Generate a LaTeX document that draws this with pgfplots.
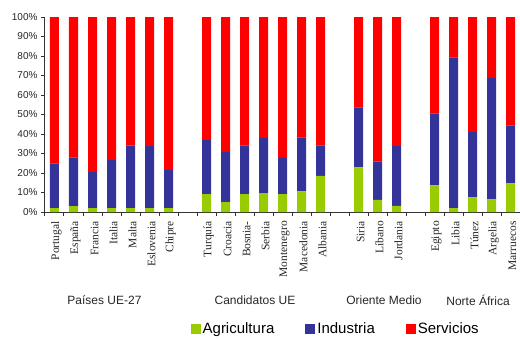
\documentclass[border=0pt]{standalone}
\usepackage{pgfplots}
\pgfplotsset{compat=1.18}
\usepackage{pgfplotstable}
\usepackage{fontspec}
\setmainfont{Liberation Sans}
\newfontfamily\serifx{Liberation Serif}
\definecolor{agr}{HTML}{99CC00}
\definecolor{ind}{HTML}{333399}
\definecolor{ser}{HTML}{FF0000}
\pgfplotstableread{
x agr ind ser
0 2 23 75
1 3 25 72
2 2 18.5 79.5
3 2 24.7 73.3
4 2 32 66
5 2 31.8 66.2
6 2 19.5 78.5
8 9.2 27.7 63.1
9 5.1 25.7 69.2
10 9.2 25 65.8
11 9.7 28.2 62.1
12 9.2 18.5 72.3
13 10.6 27.7 61.7
14 18.5 15.7 65.8
16 22.9 30.8 46.3
17 6.2 19.8 74
18 3.1 30.7 66.2
20 13.7 36.9 49.4
21 2 77.3 20.7
22 7.5 33.5 59
23 6.5 62.2 31.3
24 14.7 29.7 55.6
}\data
\pgfplotsset{sqlegend/.style={legend image code/.code={\fill[#1] (0pt,-5pt) rectangle (10pt,5pt);}}}
\begin{document}
\begin{tikzpicture}
\begin{axis}[
  scale only axis, width=475pt, height=195pt,
  ybar stacked, bar width=9pt,
  xmin=-0.5, xmax=24.5, ymin=0, ymax=100,
  axis x line*=bottom, axis y line*=left,
  axis line style={black!80, line width=1pt},
  tick align=outside,
  ytick={0,10,...,100},
  yticklabel={\pgfmathprintnumber{\tick}\%},
  /pgf/number format/assume math mode=true,
  yticklabel style={font=\fontsize{10}{12}\selectfont, text=black!85},
  y tick style={black!80, line width=0.8pt},
  major tick length=4pt,
  xtick={-0.5,0.5,...,24.5},
  xticklabels={},
  x tick style={black!80, line width=1pt},
  extra x ticks={0,1,2,3,4,5,6,8,9,10,11,12,13,14,16,17,18,20,21,22,23,24},
  extra x tick labels={Portugal,España,Francia,Italia,Malta,Eslovenia,Chipre,Turquía,Croacia,Bosnia-,Serbia,Montenegro,Macedonia,Albania,Siria,Líbano,Jordania,Egipto,Libia,Túnez,Argelia,Marruecos},
  extra x tick style={major tick length=0pt, tick label style={yshift=-8pt, xshift=2pt, rotate=90, anchor=east, font=\serifx\fontsize{11.5}{12}\selectfont, text=black!85, inner sep=1pt}},
  clip=false,
  legend columns=3,
  legend style={draw=none, at={(0.612,-0.6)}, anchor=center, font=\fontsize{15}{16}\selectfont, /tikz/every even column/.append style={column sep=29pt}, inner sep=0pt},
  sqlegend,
]
\addplot[fill=agr, draw=none] table[x=x, y=agr]{\data};
\addplot[fill=ind, draw=none] table[x=x, y=ind]{\data};
\addplot[fill=ser, draw=none] table[x=x, y=ser]{\data};
\legend{Agricultura, Industria, Servicios}
\coordinate (O) at (rel axis cs:0,0);
\coordinate (T) at (rel axis cs:1,1);
\node[font=\fontsize{12}{14}\selectfont, text=black!85] at (axis cs:2.63,0) [yshift=-88pt] {Países UE-27};
\node[font=\fontsize{12}{14}\selectfont, text=black!85] at (axis cs:10.55,0) [yshift=-88pt] {Candidatos UE};
\node[font=\fontsize{12}{14}\selectfont, text=black!85] at (axis cs:17.34,0) [yshift=-88pt] {Oriente Medio};
\node[font=\fontsize{12}{14}\selectfont, text=black!85] at (axis cs:22.29,0) [yshift=-88pt] {Norte África};
\end{axis}
\path (O) ++(-45pt,-126pt) coordinate (BL);
\path (T) ++(0pt,17pt) coordinate (TR);
\pgfresetboundingbox
\useasboundingbox (BL) rectangle (TR);
\end{tikzpicture}
\end{document}
